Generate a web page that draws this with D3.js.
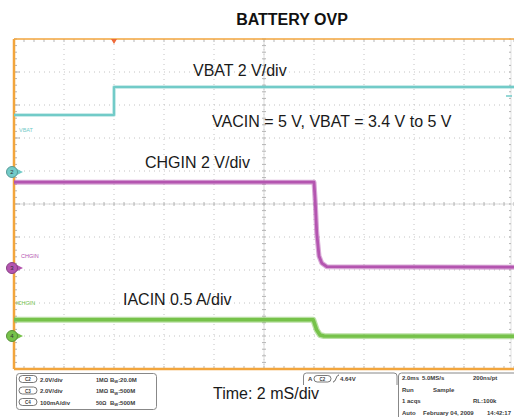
<!DOCTYPE html>
<html><head><meta charset="utf-8">
<script src="https://cdn.jsdelivr.net/npm/d3@7"></script>
<style>
body{margin:0;background:#fff}
svg{display:block}
text{font-family:"Liberation Sans",Arial,Helvetica,sans-serif}
</style>
</head><body>
<svg id="c" width="514" height="417"></svg>
<script>
const timeDomainMs = [-4, 16];          // 2 ms/div, 10 divisions, trigger at 2 div
const divDomain = [-5, 5];              // vertical divisions
const vbatT = [-4, 0, 0, 16];
const vbatV = [3.45, 3.45, 5.15, 5.15];
const chginT = [-4, 8.0, 8.05, 8.11, 8.2, 8.31, 8.51, 16];
const chginV = [5.2, 5.2, 4.0, 2.12, 0.73, 0.3, 0.08, 0.05];
const iacinT = [-4, 7.97, 8.11, 8.24, 8.4, 16];
const iacinA = [0.245, 0.245, 0.09, 0.015, 0.0, -0.005];
const chanNames = ["VBAT", "CHGIN", "ICHGIN"];
const chanNums = ["2", "3", "4"];
const chanPerDiv = [2, 2, 0.5];
const chanOffsetDiv = [0.97, -1.94, -4.0];
const chanColors = ["#72cbc8", "#b455b0", "#76c24a"];
const annotations = ["VBAT 2 V/div", "VACIN = 5 V, VBAT = 3.4 V to 5 V", "CHGIN 2 V/div", "IACIN 0.5 A/div", "Time: 2 mS/div"];
const title = "BATTERY OVP";
const vertRows = [["C2","2.0V/div","1MΩ","20.0M"],["C3","2.0V/div","1MΩ","500M"],["C4","100mA/div","50Ω","500M"]];
const trigText = ["A", "C2", "4.64V"];
const horizRows = [["2.0ms","5.0MS/s","200ns/pt"],["Run","Sample",""],["1 acqs","","RL:100k"],["Auto","February 04, 2009","14:42:17"]];

// ---- layout ----
const svg = d3.select("#c");
const L = 14, R = 514, T = 39, B = 369;
const x = d3.scaleLinear().domain(timeDomainMs).range([L, R]);
const yDiv = d3.scaleLinear().domain(divDomain).range([B, T]);

// grid dotted lines
const g = svg.append("g");
const vLines = d3.range(1, 10).map(i => timeDomainMs[0] + i * 2);
const hLines = d3.range(-4, 5);
g.selectAll(".vg").data(vLines).join("line")
  .attr("x1", d => x(d)).attr("x2", d => x(d)).attr("y1", T).attr("y2", B)
  .attr("stroke", "#c4c4c4").attr("stroke-width", 1).attr("stroke-dasharray", "1,4");
g.selectAll(".hg").data(hLines).join("line")
  .attr("y1", d => yDiv(d)).attr("y2", d => yDiv(d)).attr("x1", L).attr("x2", R)
  .attr("stroke", "#c4c4c4").attr("stroke-width", 1).attr("stroke-dasharray", "1,4");
// center cross lines
g.append("line").attr("x1", L).attr("x2", R).attr("y1", yDiv(0)).attr("y2", yDiv(0)).attr("stroke", "#dadada");
g.append("line").attr("x1", x(6)).attr("x2", x(6)).attr("y1", T).attr("y2", B).attr("stroke", "#dadada");
g.append("line").attr("x1", 511).attr("x2", 511).attr("y1", T).attr("y2", B).attr("stroke", "#e2e2e2");

// minor ticks
const minorX = d3.range(0, 51).map(i => timeDomainMs[0] + i * 0.4);
const minorY = d3.range(0, 51).map(i => -5 + i * 0.2);
const tk = svg.append("g").attr("stroke", "#b5b5b5").attr("stroke-width", 1);
tk.selectAll(".tt").data(minorX).join("line").attr("x1", d => x(d)).attr("x2", d => x(d)).attr("y1", T).attr("y2", T + 3);
tk.selectAll(".tb").data(minorX).join("line").attr("x1", d => x(d)).attr("x2", d => x(d)).attr("y1", B - 3).attr("y2", B);
tk.selectAll(".tc").data(minorX).join("line").attr("x1", d => x(d)).attr("x2", d => x(d)).attr("y1", yDiv(0) - 2).attr("y2", yDiv(0) + 2);
tk.selectAll(".tl").data(minorY).join("line").attr("y1", d => yDiv(d)).attr("y2", d => yDiv(d)).attr("x1", L).attr("x2", L + 3);
tk.selectAll(".tm").data(minorY).join("line").attr("y1", d => yDiv(d)).attr("y2", d => yDiv(d)).attr("x1", x(6) - 2).attr("x2", x(6) + 2);
tk.selectAll(".tr").data(minorY).join("line").attr("y1", d => yDiv(d)).attr("y2", d => yDiv(d)).attr("x1", 509).attr("x2", 511);
tk.selectAll(".tlm").data(hLines).join("line").attr("y1", d => yDiv(d)).attr("y2", d => yDiv(d)).attr("x1", L).attr("x2", L + 6);

// frame
const orange = "#f2a53c";
svg.append("line").attr("x1", L).attr("x2", R).attr("y1", T).attr("y2", T).attr("stroke", orange).attr("stroke-width", 1.5);
svg.append("line").attr("x1", L).attr("x2", R).attr("y1", B).attr("y2", B).attr("stroke", orange).attr("stroke-width", 2.5);
svg.append("line").attr("x1", L).attr("x2", L).attr("y1", T).attr("y2", B).attr("stroke", orange).attr("stroke-width", 2.5);

// trigger position marker
svg.append("path").attr("d", `M${x(0)-3},${T}L${x(0)+3},${T}L${x(0)},${T+5}Z`).attr("fill", "#ee6a3a");

// traces: light outer band + solid core
const series = [d3.zip(vbatT, vbatV), d3.zip(chginT, chginV), d3.zip(iacinT, iacinA)];
const outerW = [3.5, 5, 6];
const coreW = [2, 2.8, 3.5];
series.forEach((s, i) => {
  const yv = v => yDiv(chanOffsetDiv[i] + v / chanPerDiv[i]);
  const line = d3.line().x(d => x(d[0])).y(d => yv(d[1]));
  svg.append("path").attr("d", line(s)).attr("fill", "none").attr("stroke", chanColors[i])
    .attr("stroke-opacity", 0.5).attr("stroke-width", outerW[i]).attr("stroke-linejoin", "round");
  svg.append("path").attr("d", line(s)).attr("fill", "none").attr("stroke", chanColors[i])
    .attr("stroke-width", coreW[i]).attr("stroke-linejoin", "round");
});

// channel labels (small)
const labelPos = [[19, 132], [21, 258], [16, 305]];
chanNames.forEach((n, i) => {
  svg.append("text").attr("x", labelPos[i][0]).attr("y", labelPos[i][1]).text(n)
    .attr("font-size", 5.5).attr("fill", chanColors[i]);
});

// channel ground markers
chanNums.forEach((n, i) => {
  const cy = yDiv(chanOffsetDiv[i]);
  svg.append("path").attr("d", `M16,${cy-3.5}L23,${cy}L16,${cy+3.5}Z`).attr("fill", chanColors[i]);
  svg.append("circle").attr("cx", 12).attr("cy", cy).attr("r", 5.5).attr("fill", chanColors[i])
    .attr("stroke", d3.color(chanColors[i]).darker(0.8)).attr("stroke-width", 1);
  svg.append("text").attr("x", 12).attr("y", cy + 2).attr("text-anchor", "middle").attr("font-size", 6)
    .attr("fill", "#333").text(n);
});
// right-side level marker
svg.append("path").attr("d", `M506,96L512,96`).attr("stroke", chanColors[0]).attr("stroke-width", 1.5);

// title & annotations
svg.append("text").attr("x", 292).attr("y", 25).attr("text-anchor", "middle").attr("font-size", 16)
  .attr("font-weight", "bold").attr("fill", "#111").text(title);
const annPos = [[193, 76], [212, 127], [145, 168], [123, 305], [213, 399]];
annotations.forEach((a, i) => {
  svg.append("text").attr("x", annPos[i][0]).attr("y", annPos[i][1]).attr("font-size", 16)
    .attr("fill", "#1a1a1a").text(a);
});

// bottom info boxes
const info = svg.append("g").attr("font-size", 6).attr("font-weight", "bold").attr("fill", "#3a3a3a");
info.append("rect").attr("x", 16.5).attr("y", 373.5).attr("width", 140).attr("height", 36).attr("rx", 3)
  .attr("fill", "none").attr("stroke", "#888").attr("stroke-width", 1);
vertRows.forEach((r, i) => {
  const yy = 379.5 + i * 11.5;
  info.append("rect").attr("x", 19).attr("y", yy - 4).attr("width", 18).attr("height", 7).attr("rx", 3.5)
    .attr("fill", "none").attr("stroke", "#555").attr("stroke-width", 0.8);
  info.append("text").attr("x", 28).attr("y", yy + 1.8).attr("text-anchor", "middle").attr("font-size", 4.5).text(r[0]);
  info.append("text").attr("x", 40).attr("y", yy + 2).text(r[1]);
  info.append("text").attr("x", 96).attr("y", yy + 2).attr("font-size", 5.5).text(r[2]);
  info.append("text").attr("x", 110).attr("y", yy + 2).html(`B<tspan font-size="4" dy="1.5">W</tspan><tspan dy="-1.5">:${r[3]}</tspan>`);
});
// trigger box
info.append("path").attr("d", "M303.5,385V376a3,3 0 0 1 3,-3H394a3,3 0 0 1 3,3V385")
  .attr("fill", "none").attr("stroke", "#888");
info.append("text").attr("x", 308).attr("y", 380.5).text(trigText[0]);
info.append("rect").attr("x", 314).attr("y", 375.5).attr("width", 17).attr("height", 6.5).attr("rx", 3.2)
  .attr("fill", "none").attr("stroke", "#555").attr("stroke-width", 0.8);
info.append("text").attr("x", 322.5).attr("y", 380.5).attr("text-anchor", "middle").attr("font-size", 4.5).text(trigText[1]);
info.append("path").attr("d", "M333,382C336,382 336,375 339,375").attr("fill", "none").attr("stroke", "#333").attr("stroke-width", 0.8);
info.append("text").attr("x", 340).attr("y", 380.5).text(trigText[2]);
// horizontal box
info.append("path").attr("d", "M398.5,417V376a3,3 0 0 1 3,-3H514").attr("fill", "none").attr("stroke", "#888");
const hx = [[402, 422, 473], [402, 433, 0], [402, 0, 473], [402, 423, 487]];
horizRows.forEach((r, i) => {
  const yy = 380 + i * 11.5;
  r.forEach((t, j) => { if (t) info.append("text").attr("x", hx[i][j]).attr("y", yy).text(t); });
});
</script>
</body></html>
